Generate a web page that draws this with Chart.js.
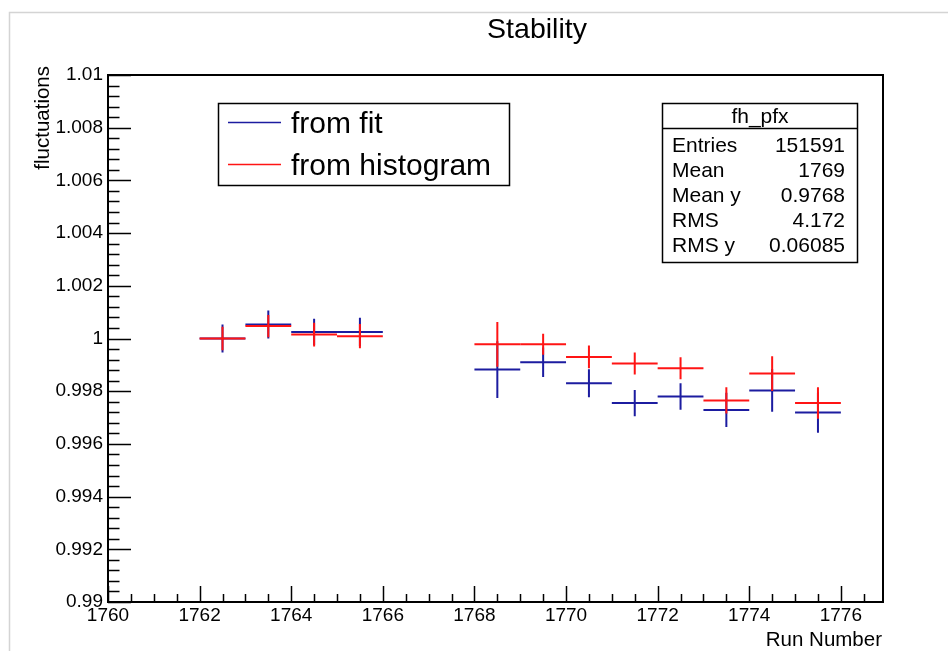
<!DOCTYPE html>
<html>
<head>
<meta charset="utf-8">
<script src="https://cdn.jsdelivr.net/npm/chart.js@4.4.1/dist/chart.umd.min.js"></script>
<style>
  html,body{margin:0;padding:0;background:#fff;}
  #wrap{position:relative;width:948px;height:651px;}
</style>
</head>
<body>
<div id="wrap"><canvas id="c" width="948" height="651"></canvas></div>
<script>
// run bins (centres) and half width
const runs = [1762.5, 1763.5, 1764.5, 1765.5, 1768.5, 1769.5, 1770.5, 1771.5, 1772.5, 1773.5, 1774.5, 1775.5];
const binHalf = 0.5;

// from fit (blue)
const fitVals = [1.0000, 1.00053, 1.00025, 1.00025, 0.99882, 0.9991, 0.9983, 0.99755, 0.9978, 0.99729, 0.99803, 0.99719];
const fitErrs = [0.00053, 0.00053, 0.0005, 0.00054, 0.00108, 0.00056, 0.00053, 0.0005, 0.0005, 0.00065, 0.00081, 0.00077];

// from histogram (red)
const histVals = [1.0000, 1.00047, 1.00015, 1.00009, 0.99978, 0.99978, 0.9993, 0.99905, 0.99887, 0.99765, 0.99867, 0.99755];
const histErrs = [0.00045, 0.00042, 0.00045, 0.00046, 0.00085, 0.0004, 0.00043, 0.00042, 0.00042, 0.0005, 0.00066, 0.0006];

// texts
const titleText = "Stability";
const xTitle = "Run Number";
const yTitle = "fluctuations";
const legendLabels = ["from fit", "from histogram"];
const statsTitle = "fh_pfx";
const statsNames = ["Entries", "Mean", "Mean y", "RMS", "RMS y"];
const statsValues = ["151591", "1769", "0.9768", "4.172", "0.06085"];

const BLUE = "rgb(28,28,160)";
const RED = "rgb(255,20,20)";
const FONT = '"Liberation Sans", Arial, Helvetica, sans-serif';

function pts(vals){ return runs.map((r,i)=>({x:r, y:vals[i]})); }

// error crosses from the dataset points, through the scales
const errorBars = {
  id:"errorBars",
  afterDatasetsDraw(chart){
    const {ctx, scales:{x, y}} = chart;
    const errs = [fitErrs, histErrs];
    ctx.save();
    ctx.lineWidth = 2;
    chart.data.datasets.forEach((ds, k)=>{
      ctx.strokeStyle = ds.borderColor;
      ds.data.forEach((p, i)=>{
        const px = x.getPixelForValue(p.x), py = y.getPixelForValue(p.y);
        ctx.beginPath();
        ctx.moveTo(x.getPixelForValue(p.x - binHalf), py);
        ctx.lineTo(x.getPixelForValue(p.x + binHalf), py);
        ctx.moveTo(px, y.getPixelForValue(p.y + errs[k][i]));
        ctx.lineTo(px, y.getPixelForValue(p.y - errs[k][i]));
        ctx.stroke();
      });
    });
    ctx.restore();
  }
};

// ROOT style frame, inner ticks, titles, legend, stats box
const decor = {
  id:"decor",
  afterDraw(chart){
    const {ctx, chartArea:a, scales:{x, y}} = chart;
    ctx.save();
    // pad border
    ctx.strokeStyle = "#d4d4d4";
    ctx.lineWidth = 1.5;
    ctx.beginPath();
    ctx.moveTo(9.5, 651); ctx.lineTo(9.5, 12.5); ctx.lineTo(948, 12.5);
    ctx.stroke();

    // frame
    ctx.strokeStyle = "#000";
    ctx.lineWidth = 2;
    ctx.strokeRect(a.left, a.top, a.right - a.left, a.bottom - a.top);

    // y ticks
    ctx.lineWidth = 1.5;
    ctx.beginPath();
    for(let i=0;i<=50;i++){
      const py = Math.round(y.getPixelForValue(y.min + i*0.0004)) + 0.5;
      const len = i%5===0 ? 23 : 11.5;
      ctx.moveTo(a.left, py); ctx.lineTo(a.left + len, py);
    }
    // x ticks
    for(let i=0; x.min + i*0.5 <= x.max; i++){
      const px = Math.round(x.getPixelForValue(x.min + i*0.5)) + 0.5;
      const len = i%4===0 ? 16 : 8;
      ctx.moveTo(px, a.bottom); ctx.lineTo(px, a.bottom - len);
    }
    ctx.stroke();

    ctx.fillStyle = "#000";
    // title
    ctx.font = "28.5px " + FONT;
    ctx.textAlign = "center";
    ctx.textBaseline = "alphabetic";
    ctx.fillText(titleText, 537, 38);

    // axis titles
    ctx.font = "20.5px " + FONT;
    ctx.textAlign = "right";
    ctx.fillText(xTitle, 882, 646);
    ctx.save();
    ctx.translate(49, 66);
    ctx.rotate(-Math.PI/2);
    ctx.fillText(yTitle, 0, 0);
    ctx.restore();

    // legend
    ctx.lineWidth = 1.5;
    ctx.strokeStyle = "#000";
    ctx.fillStyle = "#fff";
    ctx.fillRect(218.5, 103.5, 291, 82);
    ctx.strokeRect(218.5, 103.5, 291, 82);
    const legColors = [BLUE, RED];
    const legY = [122, 164];
    ctx.font = "30px " + FONT;
    ctx.textAlign = "left";
    legendLabels.forEach((t, i)=>{
      ctx.strokeStyle = legColors[i];
      ctx.beginPath();
      ctx.moveTo(228, legY[i] + 0.5); ctx.lineTo(281, legY[i] + 0.5);
      ctx.stroke();
      ctx.fillStyle = "#000";
      ctx.fillText(t, 291, legY[i] + 10.5);
    });

    // stats box
    ctx.strokeStyle = "#000";
    ctx.lineWidth = 1.5;
    ctx.fillStyle = "#fff";
    ctx.fillRect(662.5, 103.5, 195, 159);
    ctx.strokeRect(662.5, 103.5, 195, 159);
    ctx.beginPath();
    ctx.moveTo(662.5, 128.5); ctx.lineTo(857.5, 128.5);
    ctx.stroke();
    ctx.fillStyle = "#000";
    ctx.font = "21px " + FONT;
    ctx.textAlign = "center";
    ctx.fillText(statsTitle, 760, 123);
    statsNames.forEach((n, i)=>{
      const by = 151.5 + i*25;
      ctx.textAlign = "left";
      ctx.fillText(n, 672, by);
      ctx.textAlign = "right";
      ctx.fillText(statsValues[i], 845, by);
    });
    ctx.restore();
  }
};

new Chart(document.getElementById("c"), {
  type:"scatter",
  data:{
    datasets:[
      {label:legendLabels[0], data:pts(fitVals), borderColor:BLUE, backgroundColor:BLUE, pointRadius:0, showLine:false},
      {label:legendLabels[1], data:pts(histVals), borderColor:RED, backgroundColor:RED, pointRadius:0, showLine:false}
    ]
  },
  plugins:[errorBars, decor],
  options:{
    responsive:false,
    animation:false,
    layout:{padding:{left:0, top:75, right:65, bottom:0}},
    plugins:{legend:{display:false}, tooltip:{enabled:false}, title:{display:false}},
    scales:{
      x:{
        type:"linear", min:1760, max:1776.92,
        grid:{display:false, drawTicks:false}, border:{display:false},
        ticks:{stepSize:2, includeBounds:false, padding:2, color:"#000",
               font:{size:19, family:FONT}, maxRotation:0,
               callback:v=>String(v)},
        afterFit:s=>{ s.height = 49; }
      },
      y:{
        type:"linear", min:0.99, max:1.01,
        grid:{display:false, drawTicks:false}, border:{display:false},
        ticks:{stepSize:0.002, includeBounds:false, padding:5, color:"#000",
               font:{size:19, family:FONT},
               callback:v=>String(+v.toFixed(4))},
        afterFit:s=>{ s.height = s.height; s.width = 108; }
      }
    }
  }
});
</script>
</body>
</html>
